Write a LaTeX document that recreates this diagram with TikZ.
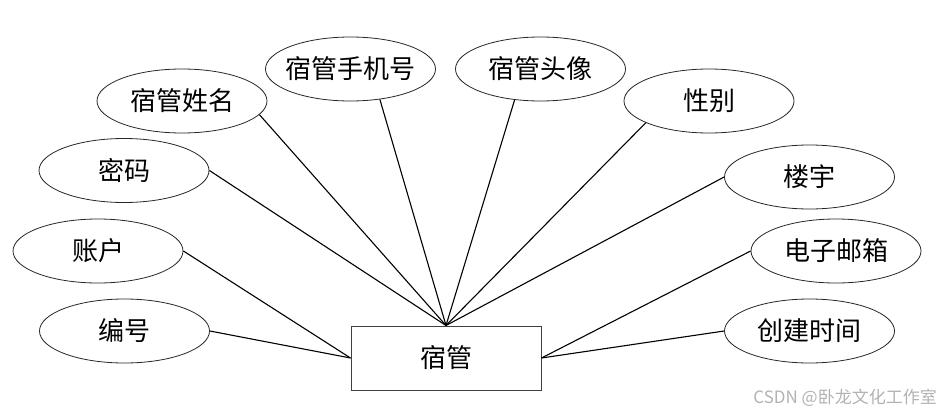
\documentclass[tikz,border=0pt]{standalone}
\usepackage{fontspec}
\newfontfamily\cjk{Noto Sans CJK SC}
\usetikzlibrary{shapes.geometric}
\tikzset{
  attr/.style={ellipse, draw=black!85, line width=0.8pt, minimum width=170pt, minimum height=64pt, inner sep=0pt, font=\cjk\fontsize{26}{30}\selectfont},
  ent/.style={rectangle, draw=black!75, line width=1pt, minimum width=190pt, minimum height=64pt, inner sep=0pt, font=\cjk\fontsize{26}{30}\selectfont},
  link/.style={draw=black, line width=1.1pt}
}
\begin{document}
\begin{tikzpicture}[x=1pt,y=-1pt]
\useasboundingbox (0,0) rectangle (941,412);
\node[ent] (m) at (446,358) {宿管};
\node[attr] (a1) at (124.5,331) {编号};
\node[attr] (a2) at (98,251) {账户};
\node[attr] (a3) at (124,170.5) {密码};
\node[attr] (a4) at (182,101) {宿管姓名};
\node[attr] (a5) at (350.5,69) {\makebox[0pt][c]{宿管手机号}};
\node[attr] (a6) at (540.5,69) {宿管头像};
\node[attr] (a7) at (709,101) {性别};
\node[attr] (a8) at (809.5,177) {楼宇};
\node[attr] (a9) at (836,251) {电子邮箱};
\node[attr] (a10) at (809.5,331) {创建时间};
\draw[link] (a1.east) -- (m.west);
\draw[link] (a2.east) -- (m.west);
\draw[link] (a3.east) -- (m.north);
\draw[link] (a4.-10) -- (m.north);
\draw[link] (a5.-46) -- (m.north);
\draw[link] (a6.-130) -- (m.north);
\draw[link] (a7.-161) -- (m.north);
\draw[link] (a8.west) -- (m.north);
\draw[link] (a9.west) -- (m.east);
\draw[link] (a10.west) -- (m.east);
\node[font=\cjk\fontsize{17}{20}\selectfont, text=black!30, anchor=east, inner sep=0pt] (wm) at (937,398) {CSDN @卧龙文化工作室};
\end{tikzpicture}
\end{document}
